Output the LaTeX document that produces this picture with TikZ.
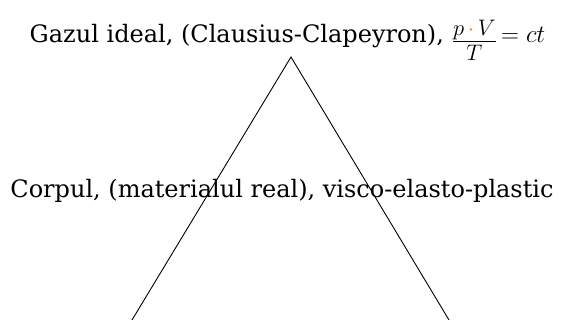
\documentclass[tikz,border=0pt]{standalone}
\usepackage{fontspec}
\setmainfont{DejaVu Serif}
\usepackage{xcolor}
\usepackage{graphicx}
\definecolor{dotorange}{RGB}{237,125,49}
\newcommand{\pvfrac}{\raisebox{-0.5ex}{\scalebox{1.3}{$\frac{p\,\textcolor{dotorange}{\cdot}\,V}{T}$}}}
\begin{document}
\begin{tikzpicture}[x=1pt,y=-1pt,
  lbl/.style={inner sep=0pt,anchor=base,font=\fontsize{24}{28}\selectfont},
  edge/.style={line width=0.9pt,black}]
\useasboundingbox (0,0) rectangle (568,320);
\node[lbl] (top) at (287.5,43) {Gazul ideal, (Clausius-Clapeyron), \pvfrac\,$=ct$};
\node[lbl] (mid) at (282,198) {Corpul, (materialul real), visco-elasto-plastic};
\coordinate (apex) at (291,57);
\coordinate (bl) at (132,320);
\coordinate (br) at (449,320);
\draw[edge] (bl) -- (apex) -- (br);
\end{tikzpicture}
\end{document}
